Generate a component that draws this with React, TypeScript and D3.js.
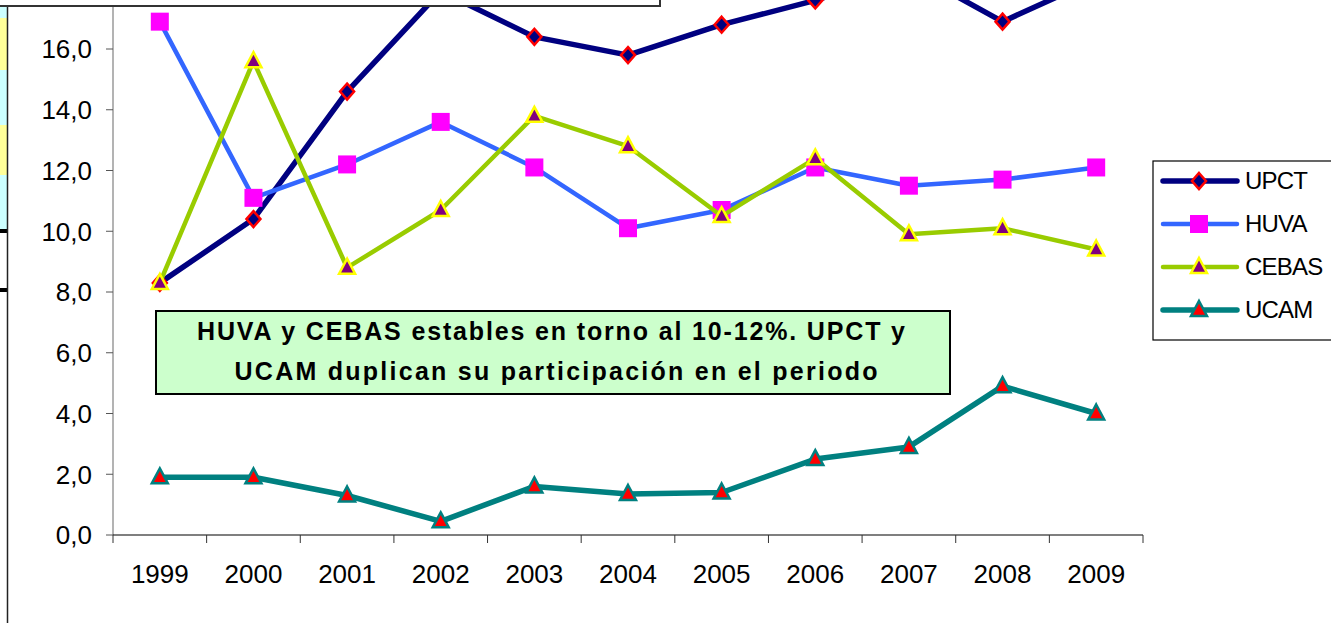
import React from "react";
import * as d3 from "d3";

// years on the category axis
const years = ["1999", "2000", "2001", "2002", "2003", "2004", "2005", "2006", "2007", "2008", "2009"];

// series values (% participation)
const upct = [8.3, 10.4, 14.6, 17.9, 16.4, 15.8, 16.8, 17.6, 18.6, 16.9, 18.3];
const huva = [16.9, 11.1, 12.2, 13.6, 12.1, 10.1, 10.7, 12.1, 11.5, 11.7, 12.1];
const cebas = [8.3, 15.6, 8.8, 10.7, 13.8, 12.8, 10.5, 12.4, 9.9, 10.1, 9.4];
const ucam = [1.9, 1.9, 1.3, 0.45, 1.6, 1.35, 1.4, 2.5, 2.9, 4.9, 4.0];

const yTicks = [0, 2, 4, 6, 8, 10, 12, 14, 16];

const series = [
  { name: "UPCT", values: upct, line: "#000080", width: 5.5, marker: "diamond", fill: "#000080", stroke: "#ff0000" },
  { name: "HUVA", values: huva, line: "#3366ff", width: 4.5, marker: "square", fill: "#ff00ff", stroke: "none" },
  { name: "CEBAS", values: cebas, line: "#99cc00", width: 4.5, marker: "triangle", fill: "#800080", stroke: "#ffff00" },
  { name: "UCAM", values: ucam, line: "#008080", width: 5.5, marker: "triangle", fill: "#ff0000", stroke: "#008080" },
];

const W = 1331, H = 623;
const font = "'Liberation Sans', Arial, sans-serif";

function markerPath(kind: string) {
  if (kind === "diamond") return "M0,-8L7,0L0,8L-7,0Z";
  if (kind === "square") return "M-9,-9H9V9H-9Z";
  return "M0,-9L8,6H-8Z";
}

export default function App() {
  const x = d3.scaleBand().domain(years).range([113, 1143]);
  const y = d3.scaleLinear().domain([0, 16]).range([535, 49]);
  const cx = (d: string) => (x(d) as number) + x.bandwidth() / 2;

  const line = d3.line<number>()
    .x((_, i) => cx(years[i]))
    .y(d => y(d));

  const strip = [
    { y0: 0, y1: 18, c: "#ccffff" },
    { y0: 18, y1: 70, c: "#ffff99" },
    { y0: 70, y1: 125, c: "#ccffff" },
    { y0: 125, y1: 175, c: "#ffff99" },
    { y0: 175, y1: 230, c: "#ccffff" },
  ];

  return (
    <svg width={W} height={H} style={{ position: "absolute", left: 0, top: 0, background: "#fff" }} fontFamily={font}>
      {/* left strip of neighbouring sheet */}
      {strip.map((s, i) => (
        <rect key={i} x={0} y={s.y0} width={7} height={s.y1 - s.y0} fill={s.c} />
      ))}
      <rect x={0} y={229} width={8} height={4} fill="#000" />
      <rect x={0} y={288} width={8} height={4} fill="#000" />
      <line x1={7.5} x2={7.5} y1={0} y2={H} stroke="#222" strokeWidth={1.5} />

      {/* y axis */}
      <line x1={113} x2={113} y1={0} y2={535} stroke="#808080" strokeWidth={1.2} />
      {yTicks.map(t => (
        <g key={t}>
          <line x1={106} x2={113} y1={y(t)} y2={y(t)} stroke="#555" />
          <text x={92} y={y(t)} dy="0.36em" textAnchor="end" fontSize={26} fill="#000">
            {d3.format(".1f")(t).replace(".", ",")}
          </text>
        </g>
      ))}

      {/* x axis */}
      <line x1={113} x2={1143} y1={535} y2={535} stroke="#000" strokeWidth={1.2} />
      {years.concat([""]).map((yr, i) => {
        const px = 113 + i * x.bandwidth();
        return <line key={i} x1={px} x2={px} y1={535} y2={543} stroke="#333" />;
      })}
      {years.map(yr => (
        <text key={yr} x={cx(yr)} y={583} textAnchor="middle" fontSize={26} fill="#000">{yr}</text>
      ))}

      {/* series */}
      {series.map(s => (
        <g key={s.name}>
          <path d={line(s.values) || ""} fill="none" stroke={s.line} strokeWidth={s.width} strokeLinejoin="round" />
          {s.values.map((v, i) => (
            <path key={i} d={markerPath(s.marker)} transform={`translate(${cx(years[i])},${y(v)})`}
              fill={s.fill} stroke={s.stroke} strokeWidth={2.5} />
          ))}
        </g>
      ))}

      {/* box at top (title area of the source) */}
      <rect x={-2} y={-20} width={662} height={26} fill="#fff" stroke="#333" strokeWidth={2} />

      {/* annotation */}
      <rect x={156} y={311} width={794} height={83} fill="#ccffcc" stroke="#000" strokeWidth={2} />
      <text x={551} y={340} textAnchor="middle" fontSize={25} fontWeight="bold" textLength={708} lengthAdjust="spacing">
        HUVA y CEBAS estables en torno al 10-12%. UPCT y
      </text>
      <text x={556} y={380} textAnchor="middle" fontSize={25} fontWeight="bold" textLength={643} lengthAdjust="spacing">
        UCAM duplican su participación en el periodo
      </text>

      {/* legend */}
      <rect x={1153} y={161} width={200} height={179} fill="#fff" stroke="#000" strokeWidth={1.2} />
      {series.map((s, i) => {
        const ly = 181 + i * 43;
        return (
          <g key={s.name}>
            <line x1={1163} x2={1237} y1={ly} y2={ly} stroke={s.line} strokeWidth={s.width} strokeLinecap="round" />
            <path d={markerPath(s.marker)} transform={`translate(1199,${ly})`} fill={s.fill} stroke={s.stroke} strokeWidth={2.5} />
            <text x={1245} y={ly + 8} fontSize={24} letterSpacing={-0.8} fill="#000">{s.name}</text>
          </g>
        );
      })}
    </svg>
  );
}
